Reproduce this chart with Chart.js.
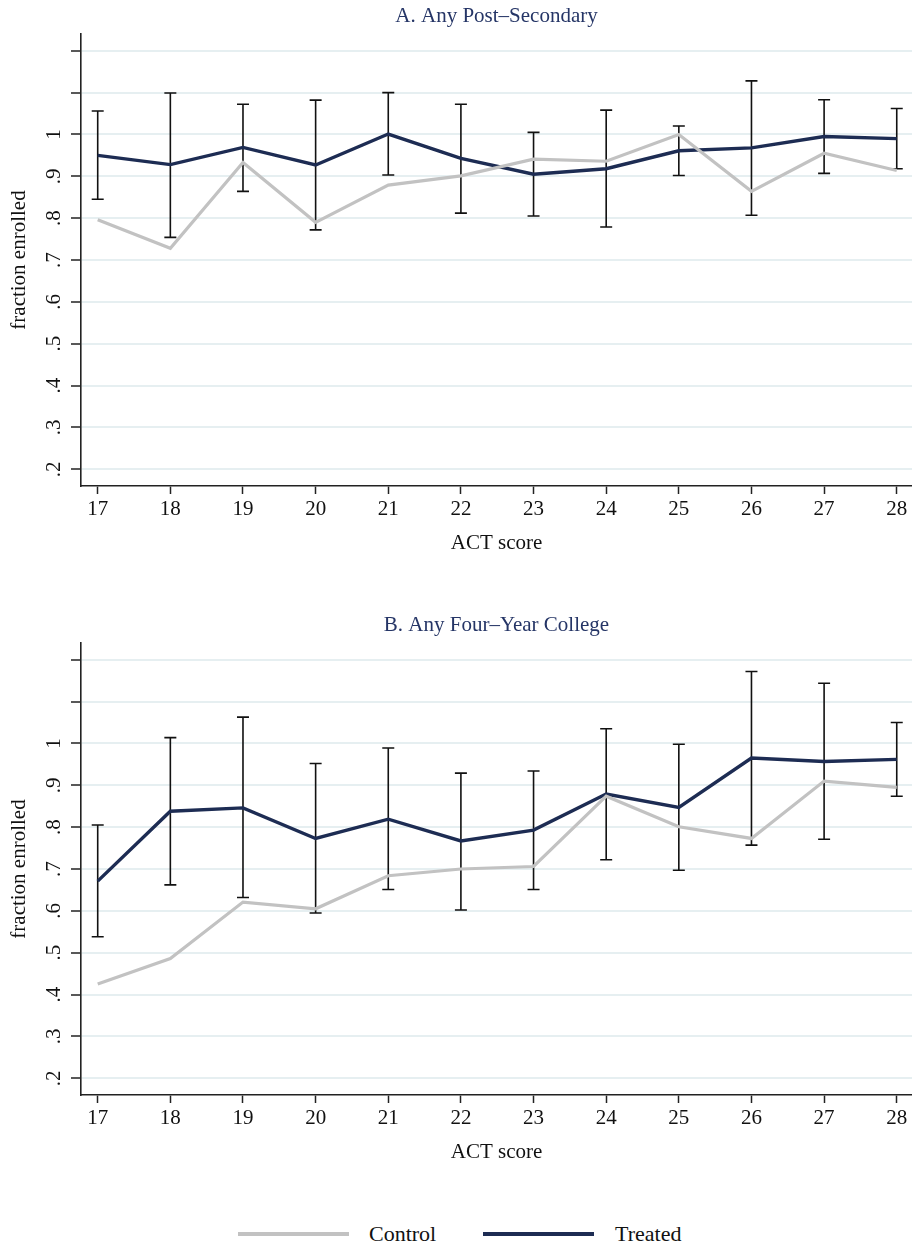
<!DOCTYPE html>
<html><head><meta charset="utf-8">
<script src="https://cdn.jsdelivr.net/npm/chart.js@4.4.1/dist/chart.umd.min.js"></script>
<style>
html,body{margin:0;padding:0;background:#fff;}
body{width:912px;height:1247px;position:relative;overflow:hidden;font-family:"Liberation Serif",serif;}
canvas{position:absolute;left:0;}
#c1{top:0;}
#c2{top:609px;}
.legend{position:absolute;top:1220px;left:0;width:912px;height:28px;}
.legend .ln{position:absolute;top:12px;height:4px;}
.legend .tx{position:absolute;top:0;font-size:22px;line-height:28px;color:#111;}
</style></head><body>
<canvas id="c1" width="912" height="560" style="width:912px;height:560px"></canvas>
<canvas id="c2" width="912" height="560" style="width:912px;height:560px"></canvas>
<div class="legend">
  <div class="ln" style="left:238px;width:111px;background:#c2c2c2"></div>
  <div class="tx" style="left:369px">Control</div>
  <div class="ln" style="left:483px;width:111px;background:#1d2c53"></div>
  <div class="tx" style="left:615px">Treated</div>
</div>
<script>
// ---- data ----
const actScores = [17, 18, 19, 20, 21, 22, 23, 24, 25, 26, 27, 28];
const xTickLabels = ['17','18','19','20','21','22','23','24','25','26','27','28'];
const yTickValues = [0.2, 0.3, 0.4, 0.5, 0.6, 0.7, 0.8, 0.9, 1.0, 1.1, 1.2];
const yTickLabels = ['.2','.3','.4','.5','.6','.7','.8','.9','1','',''];
const seriesNames = ['Control', 'Treated'];

const titleA = 'A. Any Post\u2013Secondary';
const controlA = [0.796, 0.728, 0.933, 0.790, 0.879, 0.901, 0.941, 0.936, 1.000, 0.864, 0.955, 0.914];
const treatedA = [0.950, 0.928, 0.969, 0.927, 1.001, 0.943, 0.905, 0.918, 0.961, 0.968, 0.995, 0.990];
const ciLowA  = [0.845, 0.754, 0.864, 0.772, 0.903, 0.812, 0.805, 0.779, 0.902, 0.807, 0.907, 0.918];
const ciHighA = [1.056, 1.099, 1.072, 1.082, 1.100, 1.072, 1.005, 1.058, 1.020, 1.128, 1.083, 1.062];

const titleB = 'B. Any Four\u2013Year College';
const controlB = [0.425, 0.486, 0.621, 0.605, 0.684, 0.700, 0.706, 0.874, 0.801, 0.773, 0.910, 0.895];
const treatedB = [0.671, 0.838, 0.846, 0.773, 0.819, 0.767, 0.793, 0.879, 0.847, 0.965, 0.957, 0.962];
const ciLowB  = [0.538, 0.662, 0.632, 0.595, 0.651, 0.602, 0.651, 0.722, 0.697, 0.757, 0.771, 0.874];
const ciHighB = [0.805, 1.014, 1.063, 0.952, 0.989, 0.929, 0.934, 1.035, 0.998, 1.172, 1.144, 1.050];

// ---- style ----
const FONT = '"Liberation Serif", "Times New Roman", serif';
const FS = 21;
const NAVY = '#1d2c53';
const GRAY = '#c2c2c2';
const INK = '#111';

function pts(vals){ return actScores.map((x,i)=>({x:x, y:vals[i]})); }

function makeChart(id, title, control, treated, lo, hi){
  const errorBars = {
    id:'errorBars_'+id,
    beforeDatasetsDraw(chart){
      const {ctx, scales:{x, y}} = chart;
      ctx.save();
      ctx.strokeStyle = INK; ctx.lineWidth = 1.6; ctx.lineCap = 'butt';
      actScores.forEach((a,i)=>{
        const px = x.getPixelForValue(a);
        const pt = y.getPixelForValue(hi[i]);
        const pb = y.getPixelForValue(lo[i]);
        ctx.beginPath();
        ctx.moveTo(px, pt); ctx.lineTo(px, pb);
        ctx.moveTo(px-6, pt); ctx.lineTo(px+6, pt);
        ctx.moveTo(px-6, pb); ctx.lineTo(px+6, pb);
        ctx.stroke();
      });
      ctx.restore();
    }
  };
  const yLabels = {
    id:'yLabels_'+id,
    afterDraw(chart){
      const {ctx, scales:{y}} = chart;
      ctx.save();
      ctx.fillStyle = INK;
      ctx.font = FS + 'px ' + FONT;
      ctx.textAlign = 'center'; ctx.textBaseline = 'middle';
      y.ticks.forEach((t,i)=>{
        const lab = yTickLabels[i];
        if(!lab) return;
        const py = y.getPixelForValue(t.value);
        ctx.save();
        ctx.translate(54, py);
        ctx.rotate(-Math.PI/2);
        ctx.fillText(lab, 0, 0);
        ctx.restore();
      });
      ctx.restore();
    }
  };
  return new Chart(document.getElementById(id), {
    type:'line',
    data:{datasets:[
      {label:seriesNames[0], data:pts(control), borderColor:GRAY, backgroundColor:GRAY, borderWidth:3.2, pointRadius:0, tension:0, fill:false},
      {label:seriesNames[1], data:pts(treated), borderColor:NAVY, backgroundColor:NAVY, borderWidth:3.4, pointRadius:0, tension:0, fill:false}
    ]},
    options:{
      responsive:false, animation:false, devicePixelRatio:1,
      layout:{padding:0},
      plugins:{
        legend:{display:false},
        tooltip:{enabled:false},
        title:{display:true, text:title, color:'#253566', fullSize:false,
          font:{family:FONT, size:FS, weight:'normal'}, padding:{top:3.4, bottom:5.4}}
      },
      scales:{
        x:{type:'linear', min:16.77, max:28.21,
          afterBuildTicks:s=>{ s.ticks = actScores.map(v=>({value:v})); },
          afterFit:s=>{ s.height = 74; },
          grid:{drawOnChartArea:false, drawTicks:true, tickLength:8, tickColor:'#222', tickWidth:1.5},
          border:{display:true, color:'#222', width:1.6},
          ticks:{color:INK, font:{family:FONT, size:FS}, padding:3, autoSkip:false, minRotation:0, maxRotation:0,
            callback:(v,i)=>xTickLabels[i]},
          title:{display:true, text:'ACT score', color:INK, font:{family:FONT, size:FS}, padding:{top:0, bottom:4.4}}
        },
        y:{type:'linear', min:0.16, max:1.24,
          afterBuildTicks:s=>{ s.ticks = yTickValues.map(v=>({value:v})); },
          afterFit:s=>{ s.width = 81; },
          grid:{color:'#e6eff1', lineWidth:2, drawTicks:true, tickLength:10, tickColor:'#222', tickWidth:1.5},
          border:{display:true, color:'#222', width:1.6},
          ticks:{display:false},
          title:{display:true, text:'fraction enrolled', color:INK, font:{family:FONT, size:FS}, padding:{top:6.4, bottom:0}}
        }
      }
    },
    plugins:[errorBars, yLabels]
  });
}
makeChart('c1', titleA, controlA, treatedA, ciLowA, ciHighA);
makeChart('c2', titleB, controlB, treatedB, ciLowB, ciHighB);
</script>
</body></html>
